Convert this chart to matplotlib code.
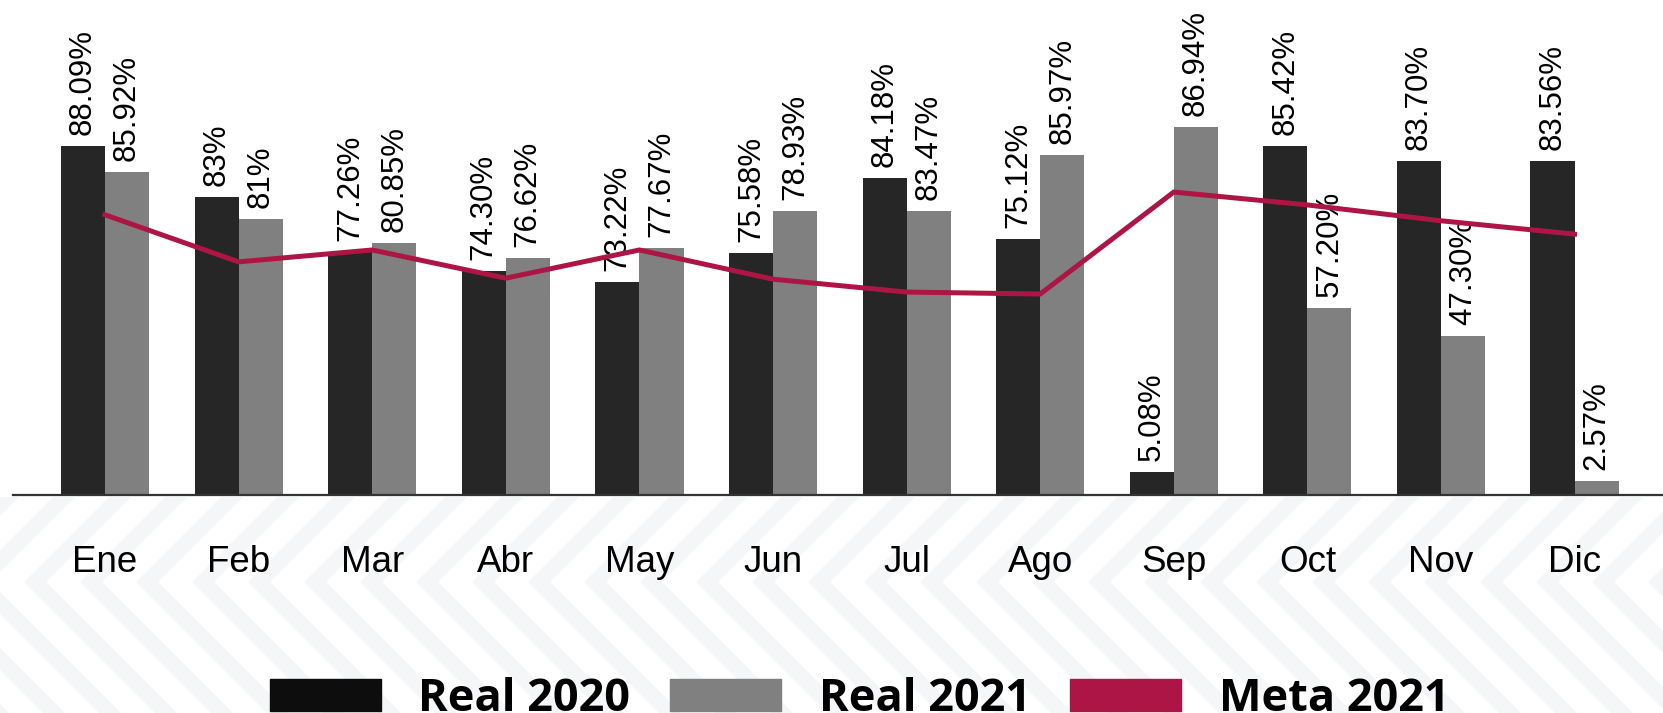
import matplotlib.pyplot as plt
from matplotlib.patches import Patch, Polygon
import numpy as np

# datos (altura de barra en unidades del eje, 0-100)
meses = ["Ene", "Feb", "Mar", "Abr", "May", "Jun", "Jul", "Ago", "Sep", "Oct", "Nov", "Dic"]
real_2020 = [70.5, 60.2, 49.1, 45.3, 43.0, 48.9, 64.0, 51.7, 4.6, 70.5, 67.5, 67.5]
real_2021 = [65.3, 55.8, 50.9, 47.9, 49.9, 57.4, 57.4, 68.7, 74.3, 37.8, 32.1, 2.8]
meta_2021 = [56.6, 47.1, 49.5, 43.8, 49.5, 43.6, 41.0, 40.6, 61.2, 58.6, 55.4, 52.7]
etiquetas_2020 = ["88.09%", "83%", "77.26%", "74.30%", "73.22%", "75.58%",
                  "84.18%", "75.12%", "5.08%", "85.42%", "83.70%", "83.56%"]
etiquetas_2021 = ["85.92%", "81%", "80.85%", "76.62%", "77.67%", "78.93%",
                  "83.47%", "85.97%", "86.94%", "57.20%", "47.30%", "2.57%"]

W, H = 1663, 713
c2020 = "#262626"
c2021 = "#808080"
cmeta = "#ad1547"

fig = plt.figure(figsize=(W / 100, H / 100), dpi=100)
fig.patch.set_facecolor("white")


def px(x, y):
    # pixel (desde arriba) -> fraccion de figura
    return (x / W, 1 - y / H)


# fondo con chevrones tenues
y_tip, y_top, y_bot = 582, 497, H
sw = 22
for xt in range(-200, W + 56, 56):
    up = [px(xt, y_tip), px(xt + sw, y_tip),
          px(xt + sw + (y_tip - y_top), y_top), px(xt + (y_tip - y_top), y_top)]
    down = [px(xt, y_tip), px(xt + sw, y_tip),
            px(xt + sw + (y_bot - y_tip), y_bot), px(xt + (y_bot - y_tip), y_bot)]
    for pts in (up, down):
        fig.add_artist(Polygon(pts, closed=True, transform=fig.transFigure,
                               facecolor="#f5f6f7", edgecolor="none", zorder=-1))

ax = fig.add_axes([13 / W, (H - 495) / H, (W - 13) / W, 495 / H])
ax.set_facecolor("none")

x = np.arange(len(meses))
bw = 0.33
b1 = ax.bar(x - bw / 2, real_2020, bw, color=c2020, zorder=2)
b2 = ax.bar(x + bw / 2, real_2021, bw, color=c2021, zorder=2)
ax.plot(x, meta_2021, color=cmeta, lw=3.6, zorder=5, solid_joinstyle="miter")

for bars, labs in ((b1, etiquetas_2020), (b2, etiquetas_2021)):
    for rect, lab in zip(bars, labs):
        ax.annotate(lab, (rect.get_x() + rect.get_width() / 2, rect.get_height()),
                    xytext=(0, 8), textcoords="offset points", rotation=90,
                    ha="center", va="bottom", fontsize=22.5,
                    family="Liberation Sans", color="black", zorder=4)

ax.set_xlim(-0.689, 11.662)
ax.set_ylim(0, 100)
ax.set_xticks(x, meses)
ax.set_yticks([])
ax.tick_params(axis="x", length=0, pad=36, labelsize=26.5)
for lab in ax.get_xticklabels():
    lab.set_family("Liberation Sans")
for s in ("top", "left", "right"):
    ax.spines[s].set_visible(False)
ax.spines["bottom"].set_color("#333333")
ax.spines["bottom"].set_linewidth(1.6)

handles = [Patch(color="#0d0d0d"), Patch(color=c2021), Patch(color=cmeta)]
fig.legend(handles, ["Real 2020", "Real 2021", "Meta 2021"], loc="center",
           bbox_to_anchor=(0.517, 0.019), ncol=3, frameon=False,
           prop={"family": "Open Sans", "weight": "bold", "size": 32.5},
           handlelength=2.45, handleheight=0.72, handletextpad=0.84,
           columnspacing=0.88, borderpad=0, borderaxespad=0)

fig.savefig("out.png", dpi=100, facecolor="white")
